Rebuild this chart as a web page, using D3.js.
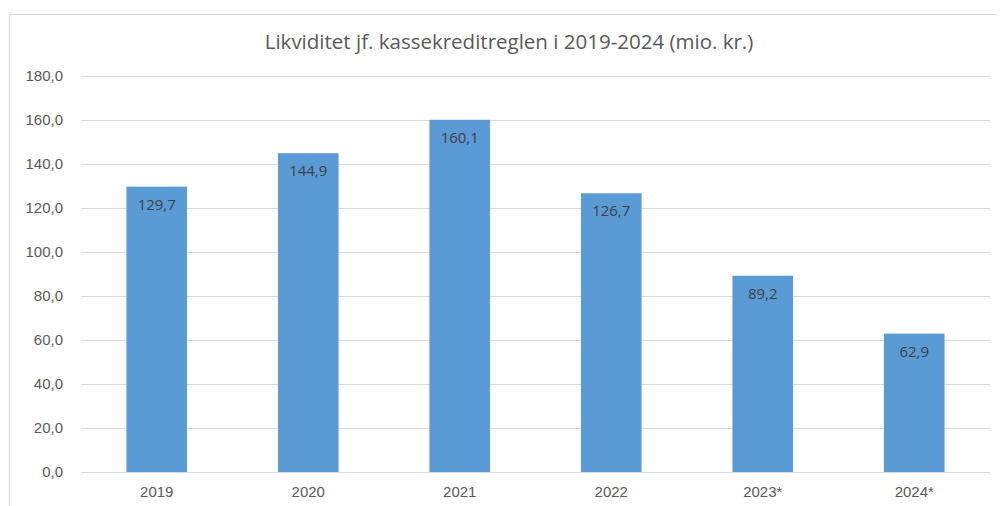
<!DOCTYPE html>
<html>
<head>
<meta charset="utf-8">
<script src="https://cdn.jsdelivr.net/npm/d3@7"></script>
<style>
  body { margin: 0; background: #fff; }
  svg { display: block; font-family: "Open Sans", sans-serif; }
</style>
</head>
<body>
<div id="chart"></div>
<script>
const years = ['2019', '2020', '2021', '2022', '2023*', '2024*'];
const values = [129.7, 144.9, 160.1, 126.7, 89.2, 62.9];
const yTicks = [0, 20, 40, 60, 80, 100, 120, 140, 160, 180];
const title = 'Likviditet jf. kassekreditreglen i 2019-2024 (mio. kr.)';

const W = 1000, H = 506;
const plot = { left: 81, right: 990, top: 76, bottom: 472 };
const fmt = (v) => v.toFixed(1).replace('.', ',');

const svg = d3.select('#chart').append('svg')
  .attr('width', W).attr('height', H);

// chart frame
svg.append('path')
  .attr('d', `M9.5,${H} V14.5 H997.5`)
  .attr('fill', 'none')
  .attr('stroke', '#d9d9d9');

const x = d3.scaleBand()
  .domain(years)
  .range([plot.left, plot.right])
  .paddingInner(0.6)
  .paddingOuter(0.3);

const y = d3.scaleLinear()
  .domain([0, 180])
  .range([plot.bottom, plot.top]);

// grid + y labels
const yAxis = d3.axisLeft(y)
  .tickValues(yTicks)
  .tickFormat(fmt)
  .tickSize(-(plot.right - plot.left))
  .tickPadding(18);

const $y = svg.append('g')
  .attr('transform', `translate(${plot.left},0)`)
  .call(yAxis);
$y.select('.domain').remove();
$y.selectAll('.tick line').attr('stroke', '#d9d9d9');
$y.selectAll('.tick text')
  .attr('fill', '#595959')
  .style('font-size', '15px');

// x labels
const xAxis = d3.axisBottom(x).tickSize(0).tickPadding(14);
const $x = svg.append('g')
  .attr('transform', `translate(0,${plot.bottom})`)
  .call(xAxis);
$x.select('.domain').remove();
$x.selectAll('.tick text')
  .attr('fill', '#595959')
  .style('font-size', '15px');

// bars
svg.append('g').selectAll('rect')
  .data(values)
  .join('rect')
  .attr('x', (d, i) => x(years[i]))
  .attr('y', (d) => y(d))
  .attr('width', x.bandwidth())
  .attr('height', (d) => y(0) - y(d))
  .attr('fill', '#5b9bd5');

// value labels
svg.append('g').selectAll('text')
  .data(values)
  .join('text')
  .attr('x', (d, i) => x(years[i]) + x.bandwidth() / 2)
  .attr('y', (d) => y(d) + 23)
  .attr('text-anchor', 'middle')
  .attr('fill', '#404040')
  .style('font-size', '15px')
  .text(fmt);

// title
svg.append('text')
  .attr('x', 509)
  .attr('y', 49)
  .attr('text-anchor', 'middle')
  .attr('fill', '#595959')
  .style('font-size', '20.5px')
  .text(title);
</script>
</body>
</html>
